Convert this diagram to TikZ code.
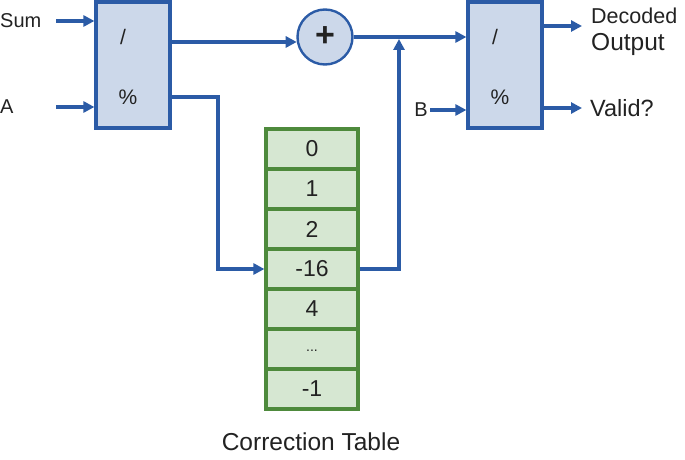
\documentclass[tikz,border=0pt]{standalone}
\usepackage{fontspec}
\setmainfont{Liberation Sans}
\usetikzlibrary{arrows.meta,shapes.misc}
\definecolor{wireblue}{HTML}{2B5BA6}
\definecolor{blockfill}{HTML}{CCD8EA}
\definecolor{tabfill}{HTML}{D6E7D2}
\definecolor{tabline}{HTML}{4E8A3C}
\definecolor{txt}{HTML}{222222}
\tikzset{
  wire/.style={draw=wireblue, line width=3.8pt, -{Triangle[length=11pt,width=11pt]}},
  block/.style={chamfered rectangle, chamfered rectangle corners={north east,south east},
    chamfered rectangle xsep=13pt, chamfered rectangle ysep=13pt,
    draw=wireblue, line width=3.2pt, fill=blockfill, minimum width=74pt, minimum height=126pt, inner sep=0pt},
  adder/.style={circle, draw=wireblue, line width=2.4pt, fill=blockfill, minimum size=55pt, inner sep=0pt},
  cell/.style={rectangle, draw=tabline, line width=3.2pt, fill=tabfill, minimum width=92pt, minimum height=40pt, inner sep=0pt, font=\fontsize{23}{25}\selectfont, text=txt},
  lbl/.style={font=\fontsize{20}{22}\selectfont, text=txt, inner sep=0pt},
  op/.style={font=\fontsize{21}{23}\selectfont, text=txt, inner sep=0pt},
}
\begin{document}
\begin{tikzpicture}[x=1pt,y=-1pt]
\useasboundingbox (0,0) rectangle (685,460);
% blocks
\node[block] (d1) at (133,65) {};
\node[block] (d2) at (505,65) {};
\node[op] (d1div) at (123,37) {/};
\node[op] (d1mod) at (128,97) {\%};
\node[op] (d2div) at (495,37) {/};
\node[op] (d2mod) at (500,97) {\%};
% adder
\node[adder] (add) at (325,37) {\fontsize{34}{36}\selectfont\bfseries\textcolor{txt}{+}};
% table
\foreach \i/\v in {0/0,1/1,2/2,3/-16,4/4,6/-1}{
  \node[cell] (t\i) at (312,149+40*\i) {\v};
}
\node[cell, font=\fontsize{14}{16}\selectfont] (t5) at (312,349) {\raisebox{-4pt}{...}};
\node[font=\fontsize{24.5}{26}\selectfont, text=txt, inner sep=0pt] (cap) at (311,442) {Correction Table};
% labels
\node[lbl, anchor=west] (sumlbl) at (0,21) {Sum};
\node[lbl, anchor=west] (albl) at (0,107) {A};
\node[lbl, anchor=east] (blbl) at (428,110) {B};
\node[font=\fontsize{21.5}{23}\selectfont, text=txt, anchor=west, inner sep=0pt] (declbl) at (591,16) {Decoded};
\node[font=\fontsize{24.5}{26}\selectfont, text=txt, anchor=west, inner sep=0pt] (outlbl) at (591,44) {Output};
\node[font=\fontsize{23.5}{25}\selectfont, text=txt, anchor=west, inner sep=0pt] (vallbl) at (590,108) {Valid?};
% coordinates
\coordinate (sumS) at (56,21);
\coordinate (aS) at (56,107);
\coordinate (bS) at (430,110);
\coordinate (p1) at (170,97);
\coordinate (bend1) at (218,97);
\coordinate (jn) at (399,39);
\coordinate (decE) at (582,26);
\coordinate (valE) at (582,108);
% connectors
\draw[wire] (sumS) -- (d1.west |- sumS);
\draw[wire] (aS) -- (d1.west |- aS);
\draw[wire] (bS) -- (d2.west |- bS);
\draw[wire] (d1.east |- add.190) -- (add.190);
\draw[wire] (add.east) -- (d2.west |- add.east);
\draw[wire] (p1) -- (bend1) |- (t3.west);
\draw[wire] (t3.east) -| (jn);
\draw[wire] (d2.east |- decE) -- (decE);
\draw[wire] (d2.east |- valE) -- (valE);
\end{tikzpicture}
\end{document}
